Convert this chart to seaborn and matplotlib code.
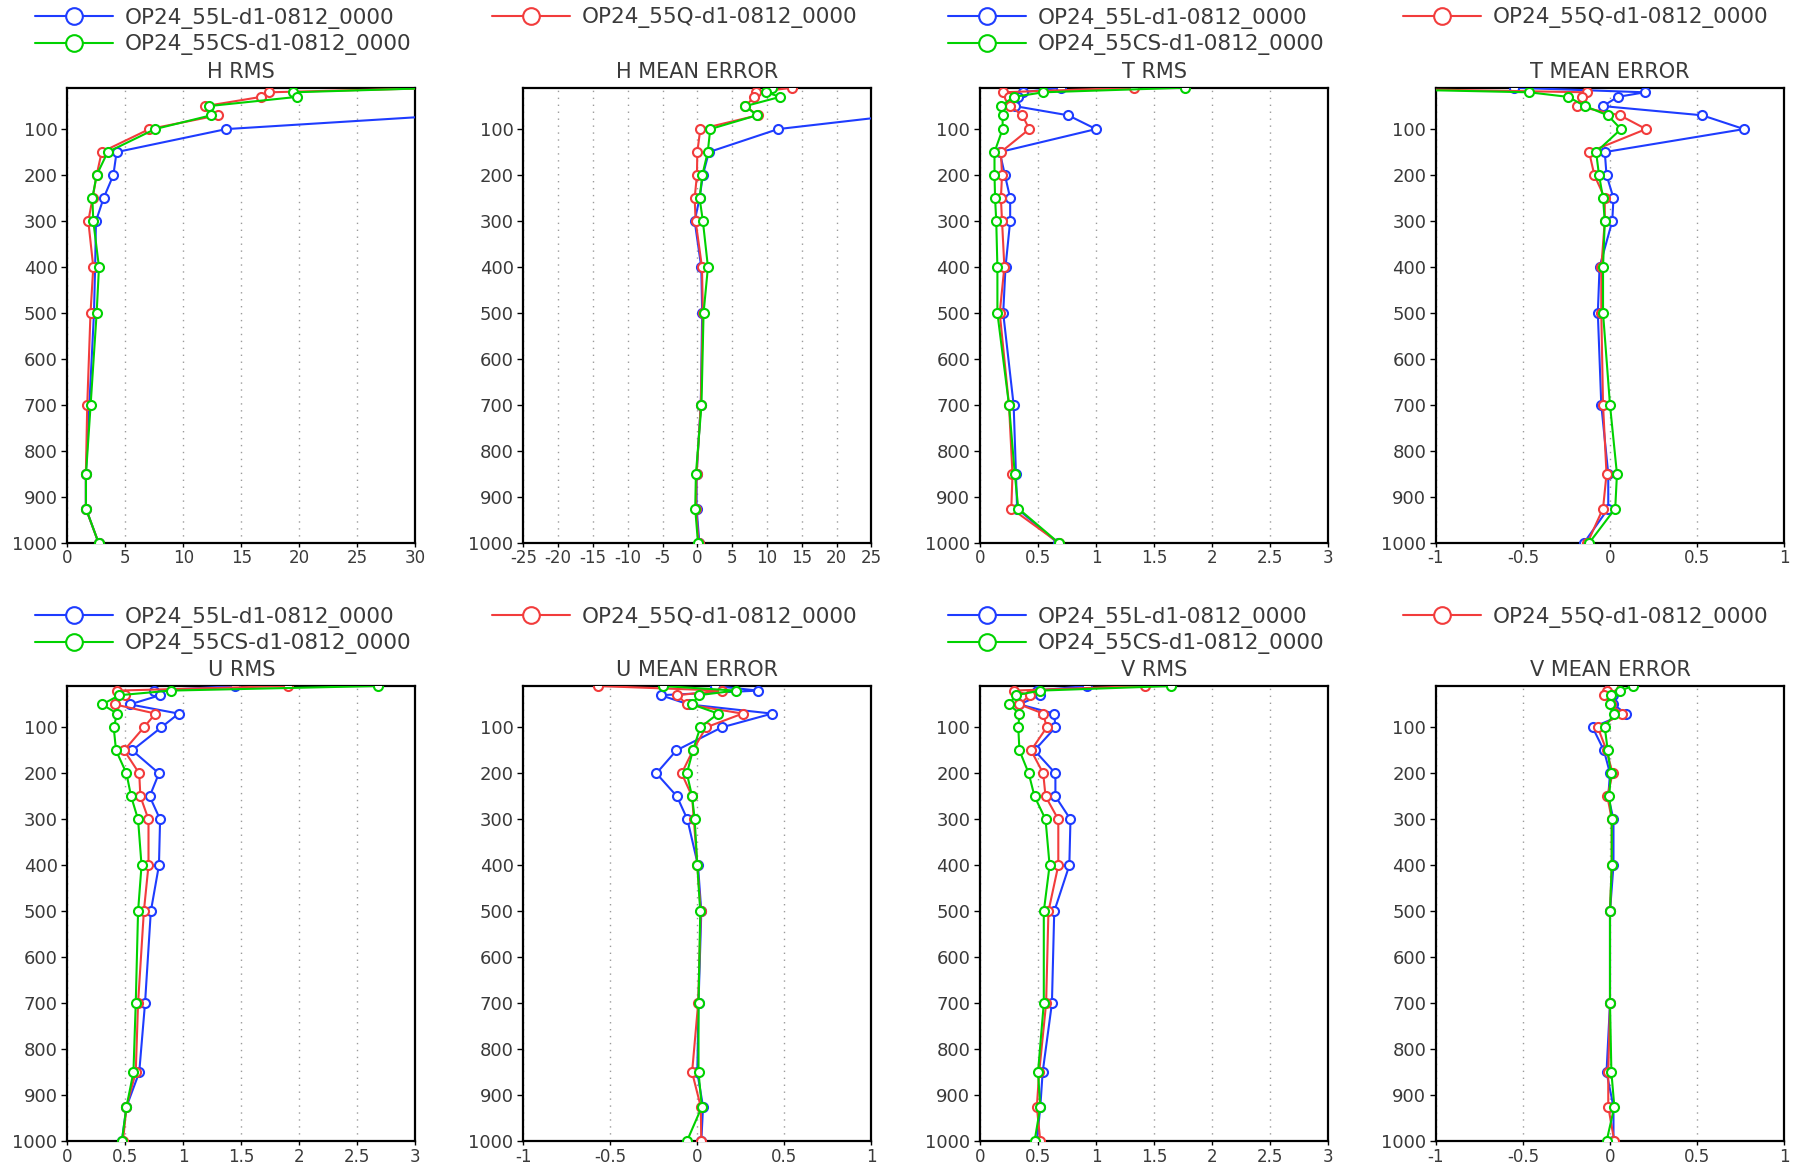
import matplotlib
matplotlib.use("Agg")
import matplotlib.pyplot as plt
import seaborn as sns
import pandas as pd
from matplotlib.lines import Line2D
from matplotlib.ticker import FuncFormatter, MultipleLocator, FixedLocator

# ---------------- data ----------------
levels = [10, 20, 30, 50, 70, 100, 150, 200, 250, 300, 400, 500, 700, 850, 925, 1000]
experiments = ["OP24_55L-d1-0812_0000", "OP24_55Q-d1-0812_0000", "OP24_55CS-d1-0812_0000"]
exp_colors = ["#1e3cff", "#f23c3c", "#00d200"]

h_rms_L = [48, 42, 38, 35, 32.8, 13.7, 4.25, 3.97, 3.13, 2.47, 2.4, 2.3, 1.9, 1.6, 1.6, 2.7]
h_rms_Q = [33, 17.4, 16.7, 11.9, 13.0, 7.07, 2.96, 2.53, 2.18, 1.81, 2.24, 2.0, 1.72, 1.6, 1.6, 2.7]
h_rms_CS = [32.6, 19.5, 19.8, 12.2, 12.4, 7.56, 3.48, 2.53, 2.16, 2.24, 2.73, 2.53, 2.01, 1.61, 1.61, 2.7]

h_me_L = [35, 33, 32, 30, 28.8, 11.6, 1.67, 0.8, 0.33, -0.38, 0.57, 0.7, 0.5, -0.1, -0.1, 0.3]
h_me_Q = [13.6, 8.46, 8.2, 6.9, 8.7, 0.43, 0.0, -0.05, -0.38, -0.24, 0.67, 0.8, 0.5, -0.1, -0.2, 0.2]
h_me_CS = [10.8, 9.9, 11.9, 6.9, 8.56, 1.86, 1.5, 0.72, 0.33, 0.8, 1.53, 0.9, 0.6, -0.2, -0.3, 0.1]

t_rms_L = [0.7, 0.37, 0.33, 0.3, 0.76, 1.0, 0.17, 0.215, 0.26, 0.26, 0.22, 0.2, 0.29, 0.31, 0.32, 0.67]
t_rms_Q = [1.33, 0.195, 0.25, 0.26, 0.365, 0.425, 0.18, 0.19, 0.18, 0.19, 0.21, 0.17, 0.25, 0.28, 0.27, 0.68]
t_rms_CS = [1.77, 0.545, 0.29, 0.18, 0.195, 0.195, 0.125, 0.125, 0.13, 0.14, 0.15, 0.15, 0.25, 0.3, 0.33, 0.68]

t_me_L = [-0.55, 0.2, 0.044, -0.04, 0.53, 0.77, -0.03, -0.02, 0.02, 0.013, -0.06, -0.07, -0.05, -0.01, -0.01, -0.15]
t_me_Q = [-1.65, -0.13, -0.16, -0.19, 0.057, 0.207, -0.12, -0.09, -0.03, -0.03, -0.05, -0.05, -0.04, -0.02, -0.04, -0.13]
t_me_CS = [-1.71, -0.465, -0.24, -0.144, -0.013, 0.063, -0.08, -0.063, -0.04, -0.03, -0.04, -0.04, 0.0, 0.04, 0.03, -0.12]

u_rms_L = [1.45, 0.75, 0.8, 0.54, 0.96, 0.81, 0.56, 0.79, 0.71, 0.8, 0.79, 0.72, 0.67, 0.62, 0.51, 0.47]
u_rms_Q = [1.9, 0.43, 0.5, 0.41, 0.76, 0.66, 0.49, 0.62, 0.63, 0.70, 0.70, 0.66, 0.61, 0.59, 0.51, 0.48]
u_rms_CS = [2.68, 0.89, 0.45, 0.30, 0.43, 0.40, 0.42, 0.51, 0.55, 0.61, 0.64, 0.61, 0.59, 0.57, 0.51, 0.47]

u_me_L = [0.1, 0.35, -0.21, -0.05, 0.43, 0.14, -0.12, -0.235, -0.117, -0.057, 0.004, 0.023, 0.007, 0.0, 0.033, 0.023]
u_me_Q = [-0.57, 0.14, -0.115, -0.06, 0.26, 0.05, -0.025, -0.09, -0.03, -0.02, 0.0, 0.02, 0.005, -0.03, 0.02, 0.023]
u_me_CS = [-0.2, 0.22, 0.008, -0.03, 0.12, 0.017, -0.025, -0.06, -0.03, -0.015, 0.0, 0.017, 0.007, 0.007, 0.026, -0.06]

v_rms_L = [0.92, 0.49, 0.52, 0.34, 0.64, 0.65, 0.47, 0.65, 0.65, 0.78, 0.77, 0.64, 0.62, 0.54, 0.52, 0.49]
v_rms_Q = [1.42, 0.29, 0.43, 0.34, 0.545, 0.575, 0.44, 0.545, 0.565, 0.675, 0.675, 0.59, 0.57, 0.51, 0.49, 0.52]
v_rms_CS = [1.65, 0.52, 0.31, 0.25, 0.34, 0.33, 0.34, 0.42, 0.47, 0.565, 0.6, 0.55, 0.55, 0.5, 0.52, 0.47]

v_me_L = [0.0, -0.01, 0.02, 0.02, 0.09, -0.1, -0.035, 0.0, -0.01, 0.02, 0.02, 0.0, 0.0, -0.02, 0.02, 0.02]
v_me_Q = [0.02, -0.02, -0.035, 0.004, 0.07, -0.07, -0.02, 0.015, -0.015, 0.01, 0.01, 0.0, 0.0, -0.01, -0.01, 0.025]
v_me_CS = [0.13, 0.06, 0.004, 0.0, 0.025, -0.03, -0.013, 0.004, -0.004, 0.01, 0.01, 0.0, 0.0, 0.008, 0.025, -0.02]

panel_titles = ["H RMS", "H MEAN ERROR", "T RMS", "T MEAN ERROR",
                "U RMS", "U MEAN ERROR", "V RMS", "V MEAN ERROR"]
panel_series = [
    (h_rms_L, h_rms_Q, h_rms_CS), (h_me_L, h_me_Q, h_me_CS),
    (t_rms_L, t_rms_Q, t_rms_CS), (t_me_L, t_me_Q, t_me_CS),
    (u_rms_L, u_rms_Q, u_rms_CS), (u_me_L, u_me_Q, u_me_CS),
    (v_rms_L, v_rms_Q, v_rms_CS), (v_me_L, v_me_Q, v_me_CS),
]
panel_xlim = [(0, 30), (-25, 25), (0, 3), (-1, 1), (0, 3), (-1, 1), (0, 3), (-1, 1)]
panel_xstep = [5, 5, 0.5, 0.5, 0.5, 0.5, 0.5, 0.5]
ytick_vals = [100, 200, 300, 400, 500, 600, 700, 800, 900, 1000]

# ---------------- style ----------------
sns.set_theme(style="white")
plt.rcParams["font.family"] = ["DejaVu Sans"]
plt.rcParams["axes.unicode_minus"] = False
text_color = "#3a3a3a"

W, H = 1796, 1165
fig = plt.figure(figsize=(W / 100, H / 100), dpi=100)
fig.patch.set_facecolor("white")

col_left = [67.3, 523.3, 980.0, 1436.0]
ax_w = 348.0
row_top = [87.7, 686.0]
ax_h = 455.3
legend_x = [35, 492, 948, 1403]
legend_rows = [(18.0, 45.0), (617.0, 644.0)]


def fmt(v, _):
    return f"{v:g}"


for i in range(8):
    r, c = divmod(i, 4)
    left = col_left[c] / W
    bottom = 1 - (row_top[r] + ax_h) / H
    ax = fig.add_axes([left, bottom, ax_w / W, ax_h / H])
    for j, (vals, name, col) in enumerate(zip(panel_series[i], experiments, exp_colors)):
        df = pd.DataFrame({"value": vals, "level": levels})
        sns.lineplot(data=df, x="value", y="level", orient="y", sort=False,
                     estimator=None, color=col, marker="o", markersize=6.5,
                     markerfacecolor="white", markeredgecolor=col,
                     markeredgewidth=1.5, linewidth=1.5, ax=ax, legend=False,
                     zorder=3 + j)
    ax.set_xlim(*panel_xlim[i])
    ax.set_ylim(1000, 10)
    ax.xaxis.set_major_locator(MultipleLocator(panel_xstep[i]))
    ax.xaxis.set_major_formatter(FuncFormatter(fmt))
    ax.yaxis.set_major_locator(FixedLocator(ytick_vals))
    ax.set_yticklabels([str(v) for v in ytick_vals])
    ax.set_xlabel("")
    ax.set_ylabel("")
    ax.grid(False)
    ax.xaxis.grid(True, linestyle=(0, (1, 4)), color="#9a9a9a", linewidth=1.0)
    for sp in ax.spines.values():
        sp.set_visible(True)
        sp.set_color("black")
        sp.set_linewidth(1.6)
    ax.tick_params(axis="y", direction="out", length=4, width=1, left=True,
                   colors="black", labelcolor=text_color, labelsize=13, pad=3)
    ax.tick_params(axis="x", direction="out", length=3, width=1, bottom=True,
                   colors="black", labelcolor=text_color, labelsize=12, pad=1.5)
    ax.set_title(panel_titles[i], fontsize=15, color=text_color, pad=7)

    # legends in GrADS layout
    if c in (0, 2):
        idx = [0, 2]
        yc = (legend_rows[r][0] + legend_rows[r][1]) / 2
    else:
        idx = [1]
        yc = legend_rows[r][0]
    handles = [Line2D([], [], color=exp_colors[k], marker="o", markersize=12,
                      markerfacecolor="white", markeredgecolor=exp_colors[k],
                      markeredgewidth=1.5, linewidth=1.5) for k in idx]
    labels = [experiments[k] for k in idx]
    ax.legend(handles, labels, loc="center left",
              bbox_to_anchor=(legend_x[c] / W, 1 - yc / H),
              bbox_transform=fig.transFigure, frameon=False,
              borderpad=0, borderaxespad=0, handlelength=3.6,
              handletextpad=0.55, labelspacing=0.25, fontsize=15.5,
              labelcolor=text_color)

fig.savefig("out.png", dpi=100, facecolor="white")
